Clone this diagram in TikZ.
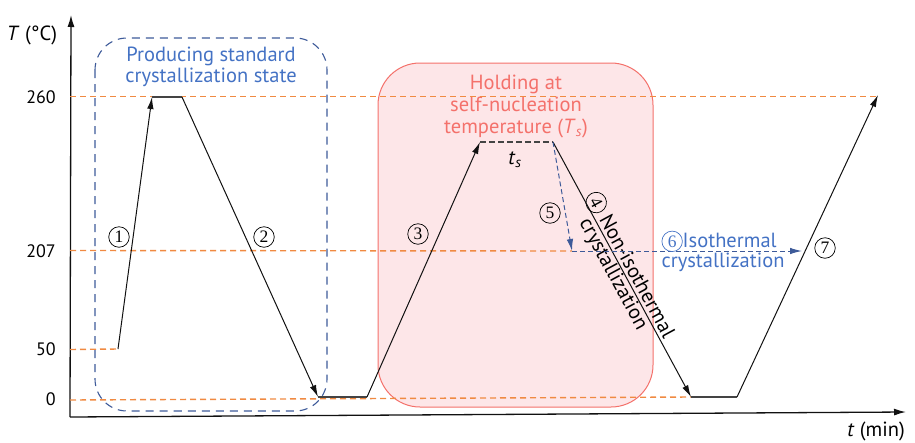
\documentclass[tikz,border=0pt]{standalone}
\usepackage{fontspec}
\setmainfont{PT Sans}
\newfontfamily\digitfont{Liberation Serif}
\usetikzlibrary{arrows.meta}
\definecolor{Ink}{HTML}{111111}
\definecolor{Hold}{HTML}{444444}
\definecolor{Guide}{HTML}{F08A42}
\definecolor{Frame}{HTML}{3D5A99}
\definecolor{Sky}{HTML}{4472C4}
\definecolor{Salmon}{HTML}{F4716B}
\definecolor{Blush}{HTML}{FDE6E8}
\tikzset{
  axis/.style={-{Latex[length=12pt,width=7pt]}, line width=1.3pt, draw=Ink},
  ramp/.style={-{Latex[length=12pt,width=6.5pt]}, line width=1pt, draw=Ink},
  plateau/.style={line width=2pt, draw=Hold},
  guide/.style={draw=Guide, line width=1.4pt, dash pattern=on 6pt off 4pt},
  isoflow/.style={-{Latex[length=12pt,width=6.5pt]}, draw=Frame, line width=1pt, dash pattern=on 5pt off 3pt},
  ticklabel/.style={anchor=east, inner sep=2pt, font=\fontsize{18}{22}\selectfont},
  lbl/.style={font=\fontsize{20.5}{22}\selectfont, align=center},
  stepnum/.style={circle, draw, line width=0.7pt, inner sep=0pt, minimum size=20.5pt,
    font=\digitfont\fontsize{17.5}{17.5}\selectfont}
}
\newcommand{\cnum}[1]{\tikz[baseline=(cn.base)]\node[stepnum] (cn) {#1};}

\begin{document}
\begin{tikzpicture}[x=1pt,y=-1pt]
  \useasboundingbox (0,0) rectangle (915,442);
  % boxes
  \draw[Salmon, fill=Blush, line width=1pt, rounded corners=42pt] (378,63) rectangle (653,407);
  \draw[Frame, line width=1.1pt, dash pattern=on 8pt off 6pt, rounded corners=32pt] (95,38) rectangle (327,411);
  \node[lbl, text=Sky] (stdlabel) at (211,67) {Producing standard\\[-1pt]crystallization state};
  \node[lbl, text=Salmon] (holdlabel) at (516,106) {Holding at\\[0pt]self-nucleation\\[0pt]temperature (\textit{T}\textsubscript{\textit{s}})};

  % axes
  \coordinate (O) at (70,417);
  \coordinate (Ttop) at (71,15);
  \coordinate (tend) at (906,412);
  \draw[axis] (O) -- (Ttop);
  \draw[axis] (O) -- (tend);
  \node[lbl] (Tlabel) at (32,35) {\textit{T} (°C)};
  \node[lbl] (tlabel) at (876,431) {\textit{t} (min)};

  % curve points
  \coordinate (a) at (118,349);
  \coordinate (b) at (152,97);
  \coordinate (c) at (182,97);
  \coordinate (d) at (318,397);
  \coordinate (e) at (367,397);
  \coordinate (f) at (480,142);
  \coordinate (g) at (553,142);
  \coordinate (h) at (691,397);
  \coordinate (i) at (737,397);
  \coordinate (j) at (878,95);
  \coordinate (k) at (572,251);
  \coordinate (l) at (802,251);

  % reference temperatures
  \draw[guide] (70,96.5) -- (878,96.5);
  \draw[guide] (70,250.5) -- (k);
  \draw[guide] (70,349.5) -- (a);
  \draw[guide] (70,400) -- (h);
  \node[ticklabel] (t260) at (58,97) {260};
  \node[ticklabel] (t207) at (58,251) {207};
  \node[ticklabel] (t50) at (58,349) {50};
  \node[ticklabel] (t0) at (58,399) {0};

  % thermal protocol
  \draw[ramp] (a) -- (b);
  \draw[plateau] (b) -- (c);
  \draw[ramp] (c) -- (d);
  \draw[plateau] (d) -- (e);
  \draw[ramp] (e) -- (f);
  \draw[plateau, dash pattern=on 6pt off 3pt] (f) -- (g);
  \draw[ramp] (g) -- (h)
    node[midway, sloped, lbl, inner sep=0pt] (nonlabel) {\cnum{4} Non-isothermal\\[-3pt]crystallization};
  \draw[plateau] (h) -- (i);
  \draw[ramp] (i) -- (j);
  \draw[isoflow] (g) -- (k);
  \draw[isoflow] (k) -- (l);

  \node[lbl] (tslabel) at (515,160) {\textit{t}\textsubscript{\textit{s}}};
  \node[stepnum] (n1) at (119,237) {1};
  \node[stepnum] (n2) at (264,237) {2};
  \node[stepnum] (n3) at (418,234) {3};
  \node[stepnum] (n5) at (550,213) {5};
  \node[stepnum] (n7) at (825,248) {7};
  \node[lbl, text=Sky, anchor=west, align=left] (isolabel) at (658,251) {\cnum{6}Isothermal\\[-2pt]crystallization};
\end{tikzpicture}
\end{document}
